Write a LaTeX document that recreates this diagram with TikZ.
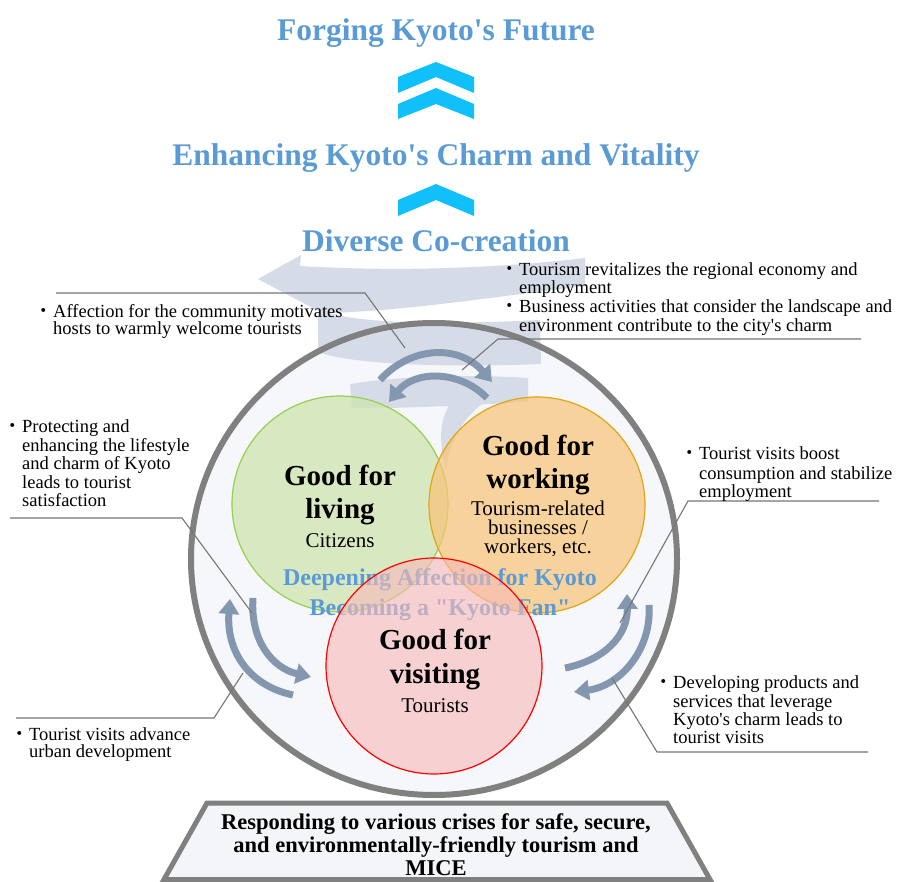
\documentclass[tikz,border=0pt]{standalone}
\usepackage{fontspec}
\setmainfont{Liberation Serif}
\newfontfamily\cjkfont{Noto Sans CJK JP}
\usetikzlibrary{arrows.meta,shapes.geometric}
\definecolor{titleblue}{RGB}{91,155,213}
\definecolor{chevcyan}{RGB}{16,192,250}
\definecolor{ringgray}{RGB}{128,128,128}
\definecolor{callgray}{RGB}{118,118,118}
\definecolor{arrowblue}{RGB}{132,151,176}
\definecolor{spiralc}{RGB}{214,220,231}
\definecolor{innerbg}{RGB}{246,247,250}
\definecolor{trapbg}{RGB}{243,245,248}
\definecolor{livfill}{RGB}{205,228,173}
\definecolor{livline}{RGB}{146,208,80}
\definecolor{wrkfill}{RGB}{248,196,121}
\definecolor{wrkline}{RGB}{222,165,20}
\definecolor{visfill}{RGB}{248,186,184}
\definecolor{visline}{RGB}{255,0,0}
\newcommand\bl{\makebox[0pt][r]{\cjkfont ・}}
\newcommand\ap{\textquotesingle}
\newcommand\qd{\textquotedbl}
\tikzset{
  ttl/.style={font=\fontsize{31.5}{34}\selectfont\bfseries, text=titleblue, inner sep=0pt, anchor=base},
  hd/.style={font=\fontsize{29}{33}\selectfont\bfseries, inner sep=0pt, anchor=base},
  sub/.style={font=\fontsize{21}{19}\selectfont, inner sep=0pt, anchor=base},
  deep/.style={font=\fontsize{24}{28}\selectfont\bfseries, text=titleblue, inner sep=0pt, anchor=base},
  ann/.style={font=\fontsize{18.5}{18.5}\selectfont, inner sep=0pt, anchor=base west},
  trt/.style={font=\fontsize{22.5}{23}\selectfont\bfseries, inner sep=0pt, anchor=base},
  call/.style={draw=callgray, line width=1.1pt},
  cyc/.style={draw=arrowblue, line width=7pt, -{Triangle[length=15pt,width=20pt]}},
  chev/.style={fill=chevcyan},
  band/.style={fill=spiralc},
  venn/.style={circle, minimum size=216pt, inner sep=0pt, line width=1.2pt, fill opacity=0.72},
}
\begin{document}
\begin{tikzpicture}[x=1pt,y=-1pt]
\useasboundingbox (0,0) rectangle (897,882);
\fill[white] (0,0) rectangle (897,882);

% titles and chevrons
\node[ttl] (t1) at (436,41) {Forging Kyoto\ap s Future};
\fill[chev] (398,77) -- (436,62) -- (474,77) -- (474,93) -- (436,77) -- (398,93) -- cycle;
\fill[chev] (398,104) -- (436,88) -- (474,104) -- (474,119) -- (436,104) -- (398,119) -- cycle;
\node[ttl] (t2) at (436,166) {Enhancing Kyoto\ap s Charm and Vitality};
\fill[chev] (398,200) -- (436,184) -- (474,200) -- (474,216) -- (436,200) -- (398,216) -- cycle;
\node[ttl] (t3) at (436,252) {Diverse Co-creation};

% big circle background
\fill[innerbg] (434,559) ellipse [x radius=243, y radius=236];

% spiral
\fill[band] (258,279) -- (301,255) -- (300,266) .. controls (400,272) and (500,268) .. (585,258) -- (585,286) .. controls (500,296) and (400,312) .. (322,313) -- cycle;
\fill[band] (318,306) .. controls (330,322) and (420,326) .. (540,320) -- (541,364) .. controls (440,368) and (350,364) .. (318,352) -- cycle;
\fill[band] (350,384) .. controls (400,376) and (470,374) .. (528,378) -- (528,402) .. controls (470,405) and (400,409) .. (352,408) -- cycle;
\fill[band] (450,404) -- (482,404) .. controls (462,420) and (450,440) .. (446,470) .. controls (438,440) and (440,420) .. (450,404) -- cycle;

% ring
\node[ellipse, draw=ringgray, line width=6pt, minimum width=486pt, minimum height=472pt, inner sep=0pt] (ring) at (434,559) {};

% Venn circles
\node[venn, fill=livfill, draw=livline] (liv) at (340,504) {};
\node[venn, fill=wrkfill, draw=wrkline] (wrk) at (537,505) {};
\node[deep] (d1) at (440,585) {Deepening Affection for Kyoto};
\node[deep] (d2) at (440,615) {Becoming a \qd Kyoto Fan\qd};
\node[venn, fill=visfill, draw=visline, fill opacity=0.62] (vis) at (434,666) {};

\node[hd] (l1) at (340,485) {Good for};
\node[hd] (l2) at (340,518) {living};
\node[sub] (l3) at (340,547) {Citizens};
\node[hd] (w1) at (538,455) {Good for};
\node[hd] (w2) at (538,488) {working};
\node[sub] (w3) at (538,515) {Tourism-related};
\node[sub] (w4) at (538,534) {businesses /};
\node[sub] (w5) at (538,553) {workers, etc.};
\node[hd] (v1) at (435,649) {Good for};
\node[hd] (v2) at (435,683) {visiting};
\node[sub] (v3) at (435,712) {Tourists};

% cycle arrows
\coordinate (u1) at (380,380); \coordinate (u2) at (492,382);
\draw[cyc] (u1) .. controls (412,345) and (460,345) .. (u2);
\coordinate (u3) at (487,398); \coordinate (u4) at (389,402);
\draw[cyc] (u3) .. controls (460,370) and (415,370) .. (u4);
\coordinate (p1) at (253,598); \coordinate (p2) at (311,677);
\draw[cyc] (p1) .. controls (250,640) and (272,668) .. (p2);
\coordinate (p3) at (293,695); \coordinate (p4) at (230,599);
\draw[cyc] (p3) .. controls (250,686) and (226,652) .. (p4);
\coordinate (q1) at (565,668); \coordinate (q2) at (627,594);
\draw[cyc] (q1) .. controls (605,660) and (628,635) .. (q2);
\coordinate (q3) at (649,605); \coordinate (q4) at (574,692);
\draw[cyc] (q3) .. controls (652,650) and (620,686) .. (q4);

% callout lines
\coordinate (c1a) at (56,293); \coordinate (c1b) at (365,293); \coordinate (c1c) at (405,348);
\draw[call] (c1a) -- (c1b) -- (c1c);
\coordinate (c2a) at (861,339); \coordinate (c2b) at (498,339); \coordinate (c2c) at (462,370);
\draw[call] (c2a) -- (c2b) -- (c2c);
\coordinate (c3a) at (10,518); \coordinate (c3b) at (182,518); \coordinate (c3c) at (252,613);
\draw[call] (c3a) -- (c3b) -- (c3c);
\coordinate (c4a) at (16,718); \coordinate (c4b) at (214,718); \coordinate (c4c) at (243,673);
\draw[call] (c4a) -- (c4b) -- (c4c);
\coordinate (c5a) at (879,501); \coordinate (c5b) at (688,501); \coordinate (c5c) at (620,623);
\draw[call] (c5a) -- (c5b) -- (c5c);
\coordinate (c6a) at (868,752); \coordinate (c6b) at (657,752); \coordinate (c6c) at (612,678);
\draw[call] (c6a) -- (c6b) -- (c6c);

% annotations
\node[ann] (a1a) at (53,318) {\bl Affection for the community motivates};
\node[ann] (a1b) at (53,335) {hosts to warmly welcome tourists};
\node[ann] (a2a) at (519,276) {\bl Tourism revitalizes the regional economy and};
\node[ann] (a2b) at (519,294) {employment};
\node[ann] (a2c) at (519,313) {\bl Business activities that consider the landscape and};
\node[ann] (a2d) at (519,332) {environment contribute to the city\ap s charm};
\node[ann] (a3a) at (22,432) {\bl Protecting and};
\node[ann] (a3b) at (22,451) {enhancing the lifestyle};
\node[ann] (a3c) at (22,469) {and charm of Kyoto};
\node[ann] (a3d) at (22,488) {leads to tourist};
\node[ann] (a3e) at (22,506) {satisfaction};
\node[ann] (a4a) at (29,740) {\bl Tourist visits advance};
\node[ann] (a4b) at (29,757) {urban development};
\node[ann] (a5a) at (699,460) {\bl Tourist visits boost};
\node[ann] (a5b) at (699,479) {consumption and stabilize};
\node[ann] (a5c) at (699,497) {employment};
\node[ann] (a6a) at (673,688) {\bl Developing products and};
\node[ann] (a6b) at (673,707) {services that leverage};
\node[ann] (a6c) at (673,725) {Kyoto\ap s charm leads to};
\node[ann] (a6d) at (673,743) {tourist visits};

% bottom trapezoid
\draw[draw=ringgray, line width=5pt, fill=trapbg, line join=miter] (207,803) -- (667,803) -- (710,879.5) -- (164,879.5) -- cycle;
\node[trt] (b1) at (436,829) {Responding to various crises for safe, secure,};
\node[trt] (b2) at (436,852) {and environmentally-friendly tourism and};
\node[trt] (b3) at (436,875) {MICE};
\end{tikzpicture}
\end{document}
